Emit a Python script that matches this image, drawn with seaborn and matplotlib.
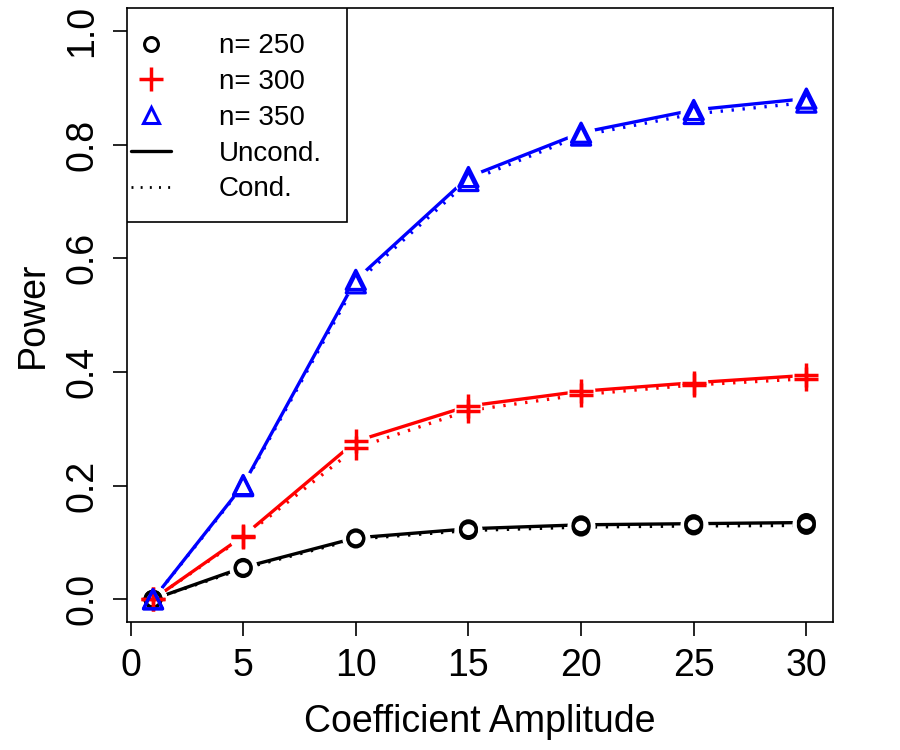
import matplotlib
matplotlib.use("Agg")
import matplotlib.pyplot as plt
from matplotlib.lines import Line2D
from matplotlib.patches import Rectangle
import seaborn as sns
import pandas as pd

amplitude = [1, 5, 10, 15, 20, 25, 30]
n_labels = ["n= 250", "n= 300", "n= 350"]
uncond_250 = [0.0, 0.056, 0.108, 0.124, 0.131, 0.133, 0.135]
cond_250 = [0.0, 0.054, 0.106, 0.121, 0.127, 0.129, 0.130]
uncond_300 = [0.0, 0.111, 0.278, 0.340, 0.366, 0.381, 0.394]
cond_300 = [0.0, 0.109, 0.266, 0.332, 0.360, 0.377, 0.388]
uncond_350 = [0.0, 0.201, 0.562, 0.743, 0.821, 0.861, 0.881]
cond_350 = [0.0, 0.199, 0.556, 0.736, 0.816, 0.854, 0.874]
type_labels = ["Uncond.", "Cond."]

colors = {"n= 250": "black", "n= 300": "#ff0000", "n= 350": "#0000ff"}
markers = {"n= 250": "o", "n= 300": "+", "n= 350": "^"}

rows = []
series = {
    ("n= 250", "Uncond."): uncond_250, ("n= 250", "Cond."): cond_250,
    ("n= 300", "Uncond."): uncond_300, ("n= 300", "Cond."): cond_300,
    ("n= 350", "Uncond."): uncond_350, ("n= 350", "Cond."): cond_350,
}
for (n, t), vals in series.items():
    for x, v in zip(amplitude, vals):
        rows.append({"amp": x, "power": v, "n": n, "type": t})
df = pd.DataFrame(rows)

sns.set_style("ticks")
plt.rcParams["font.family"] = ["Liberation Sans", "DejaVu Sans"]
plt.rcParams["text.color"] = "black"
plt.rcParams["axes.labelcolor"] = "black"

fig = plt.figure(figsize=(9, 7.5), dpi=100)
ax = fig.add_axes([0.141, 0.1707, 0.784, 0.8183])

sns.lineplot(data=df, x="amp", y="power", hue="n", style="type",
             palette=colors, dashes={"Uncond.": "", "Cond.": (0.7, 2.6)},
             linewidth=2.4, ax=ax, legend=False, zorder=2)

# white halos to emulate R type="b" gaps
for n in n_labels:
    sub = df[df["n"] == n]
    ax.scatter(sub["amp"], sub["power"], s=400, c="white", marker="o",
               linewidths=0, zorder=3)

for n in n_labels:
    sub = df[df["n"] == n]
    m = markers[n]
    if m == "+":
        sns.scatterplot(x=sub["amp"], y=sub["power"], marker="+", color=colors[n],
                        s=300, linewidth=2.5, ax=ax, zorder=4)
    else:
        sns.scatterplot(x=sub["amp"], y=sub["power"], marker=m, facecolor="none",
                        edgecolor=colors[n], s=130 if m == "o" else 190,
                        linewidth=2.3, ax=ax, zorder=4)

ax.set_xlim(-0.16, 31.16)
ax.set_ylim(-0.04, 1.04)
ax.set_xticks([0, 5, 10, 15, 20, 25, 30])
ax.set_yticks([0.0, 0.2, 0.4, 0.6, 0.8, 1.0])
ax.set_yticklabels(["0.0", "0.2", "0.4", "0.6", "0.8", "1.0"], rotation=90, va="center")
ax.tick_params(axis="both", which="both", direction="out", length=10, width=1.2,
               labelsize=27, pad=9, colors="black")
for s in ax.spines.values():
    s.set_visible(True)
    s.set_linewidth(1.2)
    s.set_color("black")
ax.set_xlabel("Coefficient Amplitude", fontsize=27, labelpad=14)
ax.set_ylabel("Power", fontsize=27, labelpad=10)

# legend frame (R-style box)
ax_w = 0.784 * 900
ax_h = 0.8183 * 750
frame = Rectangle((0, 1 - 214 / ax_h), 220 / ax_w, 214 / ax_h, transform=ax.transAxes,
                  facecolor="white", edgecolor="black", linewidth=1.2, zorder=5)
ax.add_patch(frame)

handles = [
    Line2D([], [], color="black", marker="o", markerfacecolor="none", markersize=10,
           markeredgewidth=2.2, linestyle="none"),
    Line2D([], [], color="#ff0000", marker="+", markersize=17, markeredgewidth=2.5,
           linestyle="none"),
    Line2D([], [], color="#0000ff", marker="^", markerfacecolor="none", markersize=12,
           markeredgewidth=2.2, linestyle="none"),
    Line2D([], [], color="black", linewidth=2.4, linestyle="-"),
    Line2D([], [], color="black", linewidth=2.0, linestyle=(0, (0.7, 2.6))),
]
leg = ax.legend(handles, n_labels + type_labels, loc="upper left",
                bbox_to_anchor=(0.0, 1 - 21 / ax_h), borderaxespad=0, frameon=False,
                fontsize=20, handlelength=1.45, handletextpad=1.7,
                labelspacing=0.35, borderpad=0.15)
leg.set_zorder(6)

fig.savefig("out.png", dpi=100)
